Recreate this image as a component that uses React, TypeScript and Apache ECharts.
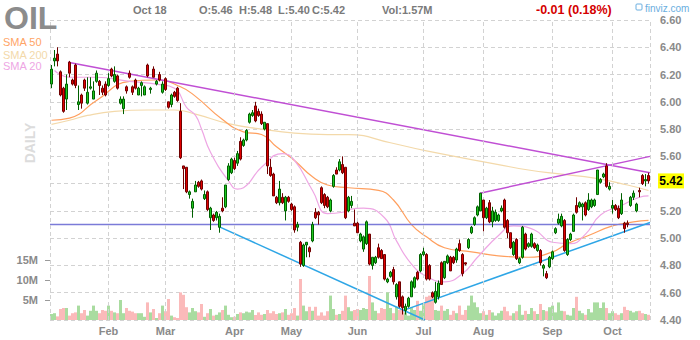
import React, { useEffect, useRef } from "react";
import * as echarts from "echarts";

// [open, close, low, high]
const candles: [number, number, number, number][] = [
  [6.13, 6.24, 6.10, 6.27], [6.30, 6.32, 6.26, 6.38], [6.35, 6.30, 6.26, 6.40], [6.22, 6.05, 6.04, 6.23],
  [6.10, 5.93, 5.92, 6.11], [6.02, 6.13, 5.94, 6.20], [6.29, 6.21, 6.18, 6.30], [6.16, 6.13, 6.12, 6.17],
  [6.27, 6.12, 6.10, 6.28], [5.98, 6.00, 5.94, 6.12], [6.05, 5.99, 5.95, 6.06], [6.16, 6.10, 6.08, 6.17],
  [5.99, 6.07, 5.98, 6.18], [6.10, 6.11, 6.09, 6.18], [6.02, 6.08, 6.02, 6.15], [6.15, 6.21, 6.14, 6.23],
  [6.15, 6.12, 6.05, 6.16], [6.10, 6.07, 6.05, 6.12], [6.13, 6.05, 6.04, 6.15], [6.12, 6.17, 6.11, 6.21],
  [6.24, 6.19, 6.18, 6.25], [6.15, 6.20, 6.14, 6.26], [6.19, 6.10, 6.09, 6.20], [5.99, 6.02, 5.98, 6.04],
  [5.95, 6.02, 5.91, 6.04], [6.11, 6.08, 6.06, 6.12], [6.21, 6.18, 6.17, 6.23], [6.11, 6.07, 6.05, 6.12],
  [6.16, 6.10, 6.09, 6.17], [6.05, 6.10, 6.05, 6.11], [6.12, 6.14, 6.04, 6.15], [6.05, 6.11, 6.05, 6.12],
  [6.27, 6.19, 6.18, 6.28], [6.09, 6.10, 6.06, 6.11], [6.24, 6.18, 6.18, 6.26], [6.13, 6.15, 6.12, 6.16],
  [6.20, 6.16, 6.15, 6.22], [6.07, 6.13, 6.06, 6.15], [6.17, 6.09, 6.08, 6.18], [6.00, 5.96, 5.95, 6.00],
  [5.98, 6.05, 5.96, 6.06], [6.07, 6.04, 6.03, 6.08], [6.10, 6.01, 6.00, 6.11], [5.93, 5.59, 5.58, 5.99],
  [5.53, 5.51, 5.36, 5.53], [5.52, 5.34, 5.33, 5.52], [5.32, 5.34, 5.29, 5.35], [5.22, 5.27, 5.15, 5.29],
  [5.34, 5.39, 5.34, 5.42], [5.41, 5.38, 5.37, 5.42], [5.42, 5.36, 5.35, 5.43], [5.29, 5.32, 5.28, 5.35],
  [5.34, 5.21, 5.20, 5.35], [5.15, 5.22, 5.06, 5.23], [5.17, 5.13, 5.12, 5.18], [5.15, 5.19, 5.13, 5.20],
  [5.08, 5.16, 5.04, 5.18], [5.22, 5.20, 5.19, 5.30], [5.23, 5.39, 5.22, 5.39], [5.43, 5.53, 5.42, 5.55],
  [5.48, 5.58, 5.47, 5.59], [5.57, 5.51, 5.50, 5.59], [5.55, 5.62, 5.53, 5.64], [5.71, 5.58, 5.57, 5.74],
  [5.68, 5.72, 5.67, 5.73], [5.72, 5.79, 5.71, 5.80], [5.85, 5.91, 5.84, 5.92], [5.90, 5.92, 5.89, 5.94],
  [5.97, 5.86, 5.85, 6.00], [5.93, 5.90, 5.89, 5.95], [5.91, 5.84, 5.83, 5.93], [5.80, 5.85, 5.79, 5.85],
  [5.84, 5.53, 5.47, 5.84], [5.52, 5.46, 5.45, 5.58], [5.47, 5.31, 5.31, 5.48], [5.30, 5.26, 5.25, 5.31],
  [5.26, 5.36, 5.24, 5.42], [5.30, 5.26, 5.25, 5.33], [5.20, 5.30, 5.13, 5.31], [5.30, 5.27, 5.26, 5.31],
  [5.25, 5.21, 5.20, 5.26], [5.23, 5.06, 5.04, 5.24], [5.08, 5.10, 5.05, 5.12], [4.97, 4.81, 4.79, 4.98],
  [4.80, 4.95, 4.79, 4.96], [4.95, 4.97, 4.86, 4.97], [4.93, 4.90, 4.86, 4.94], [4.98, 5.10, 4.97, 5.12],
  [5.19, 5.15, 5.14, 5.22], [5.19, 5.17, 5.10, 5.20], [5.37, 5.26, 5.25, 5.38], [5.32, 5.24, 5.22, 5.33],
  [5.30, 5.23, 5.22, 5.31], [5.20, 5.28, 5.19, 5.29], [5.38, 5.46, 5.37, 5.47], [5.50, 5.47, 5.47, 5.52],
  [5.50, 5.56, 5.49, 5.58], [5.54, 5.48, 5.47, 5.60], [5.52, 5.15, 5.14, 5.52], [5.20, 5.30, 5.19, 5.31],
  [5.24, 5.27, 5.22, 5.31], [5.11, 5.09, 5.09, 5.21], [5.11, 5.04, 5.04, 5.12], [4.98, 5.03, 4.97, 5.04],
  [4.92, 5.01, 4.90, 5.02], [4.96, 5.12, 4.95, 5.13], [5.03, 4.81, 4.80, 5.03], [4.80, 4.86, 4.77, 4.86],
  [4.82, 4.86, 4.81, 4.87], [4.93, 4.86, 4.85, 4.96], [4.91, 4.85, 4.85, 4.92], [4.88, 4.70, 4.69, 4.88],
  [4.68, 4.70, 4.67, 4.71], [4.72, 4.75, 4.71, 4.76], [4.77, 4.68, 4.66, 4.79], [4.57, 4.66, 4.55, 4.67],
  [4.68, 4.50, 4.49, 4.68], [4.57, 4.49, 4.44, 4.58], [4.47, 4.50, 4.44, 4.52], [4.50, 4.56, 4.49, 4.57],
  [4.57, 4.68, 4.57, 4.69], [4.64, 4.71, 4.63, 4.72], [4.75, 4.70, 4.69, 4.76], [4.76, 4.88, 4.75, 4.89],
  [4.88, 4.90, 4.87, 4.93], [4.88, 4.70, 4.69, 4.89], [4.80, 4.70, 4.69, 4.81], [4.60, 4.57, 4.56, 4.61],
  [4.53, 4.61, 4.52, 4.68], [4.57, 4.67, 4.55, 4.69], [4.82, 4.66, 4.66, 4.83], [4.71, 4.83, 4.70, 4.83],
  [4.82, 4.87, 4.81, 4.88], [4.86, 4.76, 4.76, 4.87], [4.86, 4.82, 4.81, 4.87], [4.84, 4.92, 4.82, 4.93],
  [4.96, 4.91, 4.90, 4.99], [4.88, 4.74, 4.72, 4.89], [4.82, 4.81, 4.80, 4.82], [4.93, 4.99, 4.92, 5.00],
  [5.04, 5.08, 5.03, 5.09], [5.10, 5.15, 5.09, 5.16], [5.17, 5.23, 5.16, 5.24], [5.20, 5.33, 5.20, 5.33],
  [5.28, 5.15, 5.05, 5.28], [5.15, 5.22, 5.14, 5.23], [5.26, 5.12, 5.11, 5.28], [5.12, 5.20, 5.08, 5.23],
  [5.13, 5.19, 5.12, 5.21], [5.13, 5.17, 5.12, 5.18], [5.20, 5.22, 5.19, 5.24], [5.28, 5.08, 5.07, 5.29],
  [5.13, 5.04, 5.00, 5.14], [5.04, 4.93, 4.92, 5.04], [4.88, 4.97, 4.87, 4.98], [4.99, 4.85, 4.84, 5.00],
  [4.82, 4.85, 4.81, 4.86], [4.86, 5.08, 4.85, 5.09], [5.03, 4.92, 4.91, 5.04], [4.94, 4.96, 4.93, 4.97],
  [4.94, 5.03, 4.93, 5.04], [4.96, 4.93, 4.92, 4.97], [4.91, 4.95, 4.90, 4.96], [4.91, 4.82, 4.80, 4.92],
  [4.78, 4.80, 4.72, 4.81], [4.74, 4.71, 4.70, 4.76], [4.79, 4.86, 4.78, 4.87], [4.85, 4.90, 4.84, 4.91],
  [5.04, 5.07, 5.03, 5.08], [5.11, 5.14, 5.10, 5.18], [5.09, 5.16, 5.08, 5.18], [5.13, 4.91, 4.90, 5.14],
  [4.88, 4.99, 4.87, 5.00], [4.99, 5.03, 4.98, 5.04], [5.05, 5.17, 5.05, 5.18], [5.24, 5.19, 5.18, 5.30],
  [5.23, 5.26, 5.22, 5.27], [5.23, 5.25, 5.13, 5.26], [5.26, 5.17, 5.16, 5.27], [5.21, 5.28, 5.20, 5.33],
  [5.23, 5.28, 5.22, 5.29], [5.24, 5.28, 5.23, 5.29], [5.32, 5.50, 5.32, 5.50], [5.41, 5.43, 5.40, 5.44],
  [5.45, 5.47, 5.44, 5.48], [5.53, 5.38, 5.37, 5.55], [5.36, 5.38, 5.35, 5.41], [5.22, 5.24, 5.18, 5.28],
  [5.24, 5.21, 5.20, 5.25], [5.22, 5.15, 5.14, 5.24], [5.18, 5.28, 5.17, 5.33], [5.11, 5.07, 5.04, 5.12],
  [5.11, 5.10, 5.08, 5.13], [5.24, 5.30, 5.23, 5.31], [5.30, 5.33, 5.28, 5.35], [5.20, 5.25, 5.19, 5.26],
  [5.35, 5.34, 5.30, 5.37], [5.46, 5.40, 5.39, 5.47], [5.42, 5.43, 5.38, 5.47], [5.46, 5.42, 5.40, 5.48],
];

// volume, millions
const volumes: number[] = [
  1.5, 1.7, 0.9, 2.75, 3, 3, 1.1, 1.7, 1.9, 3.6,
  1.7, 2.5, 1.1, 2.3, 3.6, 2.3, 1.7, 2.5, 2.3, 3.6,
  2.3, 1.9, 1.7, 5, 1.7, 3, 2.3, 2.1, 1.7, 1.7,
  1.7, 0.8, 4.4, 1.9, 2.75, 0.5, 1.7, 3.6, 2.2, 5.25,
  1.1, 0.7, 0.5, 6.9, 6.3, 3.2, 1.9, 3, 2.2, 1.9,
  4, 0.8, 1.7, 2.75, 1.1, 1.3, 1.9, 2.5, 3.6, 1.3,
  0.7, 0.8, 1.5, 1.9, 1.7, 2.1, 1.9, 2.5, 1.25, 1.9,
  1.3, 1.5, 2.5, 1.7, 2.2, 1.5, 1.7, 1.9, 2.75, 1.3,
  1.7, 3, 1.1, 10.25, 3.6, 2.2, 3.3, 2.3, 3.3, 1.1,
  1.9, 1.1, 2.2, 6.1, 2.75, 1.3, 1.5, 2.3, 6.1, 3.2,
  2.2, 2.5, 2.75, 2.5, 3, 2.75, 11, 4.4, 2.3, 1.7,
  3, 2.75, 6.9, 3, 1.7, 3.3, 2.5, 2.5, 1.9, 1.1,
  3.2, 2.5, 4.8, 2.3, 4, 5.8, 6.1, 6.5, 2.5, 2.3,
  3.6, 2.3, 2.75, 1.3, 2.3, 1.7, 3.6, 1.3, 2.5, 3.6,
  6.1, 4.4, 3.2, 1.7, 2.2, 1.3, 2.5, 1.9, 1.1, 1.7,
  2.3, 3.3, 2.2, 1.1, 1.7, 2.2, 3.8, 1.3, 2.3, 1.5,
  3, 2.2, 1.5, 4, 2.5, 2.2, 3.2, 3.6, 1.9, 4.4,
  2.3, 2.2, 1.3, 1.1, 3, 5.8, 2.3, 1.7, 1.3, 2.75,
  1.9, 4.4, 4.4, 3, 4.4, 3, 1.7, 2.2, 1.7, 1.3,
  1.7, 3.3, 2.5, 2.3, 1.9, 2.2, 2.3, 1.7, 1.5, 1.3,
];

const monthLabels = ["Feb", "Mar", "Apr", "May", "Jun", "Jul", "Aug", "Sep", "Oct"];
const monthIndex = [19, 38, 61, 80, 102, 124, 144, 167, 187];
const volumeTicks = [5, 10, 15];

// [candle index, value]
const sma50: [number, number][] = [
  [0, 5.865], [6, 5.88], [15, 6.01], [26, 6.15], [35, 6.16], [43, 6.11], [48, 6.04], [57, 5.87],
  [64, 5.78], [70, 5.76], [75, 5.67], [81, 5.57], [87, 5.45], [92, 5.39], [99, 5.37], [109, 5.35],
  [114, 5.28], [120, 5.10], [125, 5.01], [131, 4.93], [140, 4.90], [149, 4.87], [159, 4.86],
  [167, 4.90], [172, 4.96], [179, 5.02], [187, 5.09], [194, 5.12], [199, 5.13],
];
const sma200: [number, number][] = [
  [0, 5.835], [6, 5.865], [12, 5.90], [21, 5.93], [32, 5.94], [41, 5.94], [48, 5.91], [59, 5.84],
  [70, 5.80], [81, 5.77], [92, 5.76], [99, 5.76], [113, 5.70], [125, 5.64], [149, 5.54], [159, 5.50],
  [170, 5.47], [181, 5.44], [192, 5.39], [199, 5.35],
];
const sma20: [number, number][] = [
  [1, 6.23], [6, 6.18], [15, 6.18], [26, 6.15], [35, 6.13], [41, 6.10], [45, 5.96], [48, 5.90],
  [50, 5.80], [53, 5.63], [59, 5.42], [62, 5.36], [64, 5.37], [70, 5.52], [77, 5.62], [81, 5.57],
  [87, 5.35], [92, 5.18], [97, 5.19], [99, 5.21], [104, 5.22], [111, 5.15], [115, 4.98], [120, 4.81],
  [125, 4.72], [131, 4.68], [137, 4.74], [142, 4.86], [149, 5.02], [154, 5.09], [161, 5.06],
  [167, 4.97], [173, 4.96], [178, 5.03], [183, 5.17], [190, 5.24], [196, 5.30], [199, 5.31],
];

const resistanceDown: [number, number][] = [[5.5, 6.29], [199.5, 5.48]];
const resistanceUp: [number, number][] = [[142.8, 5.33], [199.5, 5.60]];
const supportDown: [number, number][] = [[55.8, 5.085], [124.5, 4.40]];
const supportUp: [number, number][] = [[118.5, 4.48], [199.5, 5.115]];
const horizontalLevel: [number, number][] = [[-0.5, 5.10], [199.5, 5.10]];

const lastPrice = 5.42;
const hiddenAxisLabel = 5.4; // covered by the last-price tag in the reference
const headerDate = "Oct 18";
const headerOHLC = ["O:5.46", "H:5.48", "L:5.40", "C:5.42"];
const headerVol = "Vol:1.57M";
const headerChange = "-0.01 (0.18%)";

const FONT = '"Liberation Sans", Arial, sans-serif';

export default function App() {
  const ref = useRef<HTMLDivElement>(null);

  useEffect(() => {
    if (!ref.current) return;
    const chart = echarts.init(ref.current, null, { renderer: "svg" });
    const n = candles.length;
    const categories = candles.map((_, i) => String(i));

    const lineSeries = (data: [number, number][], color: string, width: number, smooth: boolean, z: number) => ({
      type: "line",
      xAxisIndex: 1,
      yAxisIndex: 0,
      data,
      smooth,
      showSymbol: false,
      symbol: "none",
      silent: true,
      z,
      lineStyle: { color, width },
    });

    const headerText = (
      text: string,
      x: number,
      y: number,
      fill: string,
      size: number,
      weight = "bold",
      lineHeight?: number
    ) => ({
      type: "text",
      x,
      y,
      z: 50,
      silent: true,
      style: {
        text,
        fill,
        fontSize: size,
        fontWeight: weight,
        fontFamily: FONT,
        verticalAlign: "middle",
        align: "left",
        lineHeight: lineHeight ?? Math.round(size * 1.2),
      },
    });

    const baseGraphic: any[] = [
      headerText("OIL", 4, 18, "#8c8c8c", 32),
      headerText("SMA 50", 3, 42, "#ffa466", 11, "normal", 11),
      headerText("SMA 200", 3, 54.5, "#f3d9aa", 11, "normal", 11),
      headerText("SMA 20", 3, 66, "#eea6e4", 11, "normal", 11),
      headerText(headerDate, 133, 10, "#7a7a7a", 11),
      headerText(headerOHLC[0], 199, 10, "#7a7a7a", 11),
      headerText(headerOHLC[1], 239, 10, "#7a7a7a", 11),
      headerText(headerOHLC[2], 278, 10, "#7a7a7a", 11),
      headerText(headerOHLC[3], 312, 10, "#7a7a7a", 11),
      headerText(headerVol, 382, 10, "#7a7a7a", 11),
      headerText(headerChange, 536, 10, "#d40000", 12.5),
      {
        type: "rect",
        silent: true,
        z: 50,
        shape: { x: 636, y: 4, width: 6, height: 6, r: 1 },
        style: { fill: "none", stroke: "#6aaee0", lineWidth: 1 },
      },
      headerText("finviz.com", 645, 8, "#6aaee0", 10, "normal"),
      {
        type: "text",
        x: 30,
        y: 143,
        rotation: Math.PI / 2,
        silent: true,
        z: 50,
        style: {
          text: "DAILY",
          fill: "#dcdcdc",
          fontSize: 14,
          fontWeight: "bold",
          fontFamily: FONT,
          align: "center",
          verticalAlign: "middle",
        },
      },
    ];

    const option: any = {
      animation: false,
      backgroundColor: "#ffffff",
      textStyle: { fontFamily: FONT },
      grid: [
        { left: 50, top: 20, width: 600, height: 300 },
        { left: 50, top: 20, width: 600, height: 300 },
      ],
      xAxis: [
        {
          type: "category",
          gridIndex: 0,
          data: categories,
          boundaryGap: true,
          axisLine: { show: false },
          axisTick: { show: false },
          splitLine: { show: false },
          axisLabel: {
            interval: (i: number) => monthIndex.includes(i),
            formatter: (_v: string, i: number) => {
              const k = monthIndex.indexOf(i);
              return k >= 0 ? monthLabels[k] : "";
            },
            color: "#8a8a8a",
            fontSize: 11,
            fontWeight: "bold",
            margin: 5,
          },
        },
        { type: "value", gridIndex: 0, min: -0.5, max: n - 0.5, show: false },
        { type: "category", gridIndex: 1, data: categories, show: false, boundaryGap: true },
      ],
      yAxis: [
        {
          type: "value",
          gridIndex: 0,
          position: "right",
          min: 4.4,
          max: 6.6,
          interval: 0.2,
          axisLine: { show: false },
          axisTick: { show: false },
          axisLabel: {
            formatter: (v: number) => (Math.abs(v - hiddenAxisLabel) < 1e-6 ? "" : v.toFixed(2)),
            color: "#8a8a8a",
            fontSize: 11,
            fontWeight: "bold",
            margin: 10,
          },
          splitLine: { show: true, lineStyle: { color: "#d2d2d2", type: [4, 3], width: 1 } },
        },
        {
          type: "value",
          gridIndex: 1,
          position: "left",
          min: 0,
          max: 75,
          axisLine: { show: false },
          axisTick: { show: true, customValues: volumeTicks, length: 5, lineStyle: { color: "#9a9a9a" } },
          axisLabel: {
            customValues: volumeTicks,
            formatter: (v: number) => `${v}M`,
            color: "#8a8a8a",
            fontSize: 11,
            fontWeight: "bold",
            margin: 12,
          },
          splitLine: { show: false },
        },
      ],
      series: [
        {
          type: "line",
          xAxisIndex: 1,
          yAxisIndex: 0,
          data: [[-0.5, 4.4]],
          showSymbol: false,
          symbol: "none",
          lineStyle: { opacity: 0 },
          silent: true,
          z: 0,
          markLine: {
            silent: true,
            symbol: "none",
            label: { show: false },
            lineStyle: { color: "#d2d2d2", type: [4, 3], width: 1 },
            data: [-0.5, ...monthIndex, n - 0.5].map((x) => ({ xAxis: x })),
          },
        },
        {
          type: "bar",
          xAxisIndex: 2,
          yAxisIndex: 1,
          barWidth: 3,
          silent: true,
          z: 1,
          data: volumes.map((v, i) => ({
            value: v,
            itemStyle: { color: candles[i][1] >= candles[i][0] ? "#a9dca0" : "#fbbaba" },
          })),
        },
        lineSeries(sma200, "#f3d9aa", 1.2, true, 2),
        lineSeries(sma50, "#ff9f5e", 1.2, true, 2),
        lineSeries(sma20, "#eea6e4", 1.2, true, 2),
        lineSeries(horizontalLevel, "#7b7bd8", 1.5, false, 3),
        lineSeries(resistanceDown, "#c04fd4", 1.5, false, 3),
        lineSeries(resistanceUp, "#c04fd4", 1.5, false, 3),
        lineSeries(supportDown, "#2ea6e6", 1.5, false, 3),
        lineSeries(supportUp, "#2ea6e6", 1.5, false, 3),
        {
          type: "candlestick",
          xAxisIndex: 0,
          yAxisIndex: 0,
          barWidth: 3,
          silent: true,
          z: 5,
          data: candles,
          itemStyle: {
            color: "#1ec81e",
            color0: "#e00000",
            borderColor: "#006000",
            borderColor0: "#700000",
            borderWidth: 1,
          },
        },
      ],
      graphic: baseGraphic,
    };

    chart.setOption(option);

    const tagY = chart.convertToPixel({ yAxisIndex: 0 }, lastPrice) as number;
    chart.setOption({
      graphic: [
        ...baseGraphic,
        {
          type: "rect",
          silent: true,
          z: 60,
          shape: { x: 658, y: tagY - 7.5, width: 26, height: 15 },
          style: { fill: "#ffff00" },
        },
        {
          type: "text",
          silent: true,
          z: 61,
          x: 671,
          y: tagY,
          style: {
            text: lastPrice.toFixed(2),
            fill: "#000000",
            fontSize: 12,
            fontWeight: "bold",
            fontFamily: FONT,
            align: "center",
            verticalAlign: "middle",
            lineHeight: 13,
          },
        },
      ],
    });

    return () => chart.dispose();
  }, []);

  return (
    <div
      ref={ref}
      style={{ position: "fixed", left: 0, top: 0, width: 700, height: 340, background: "#ffffff" }}
    />
  );
}
